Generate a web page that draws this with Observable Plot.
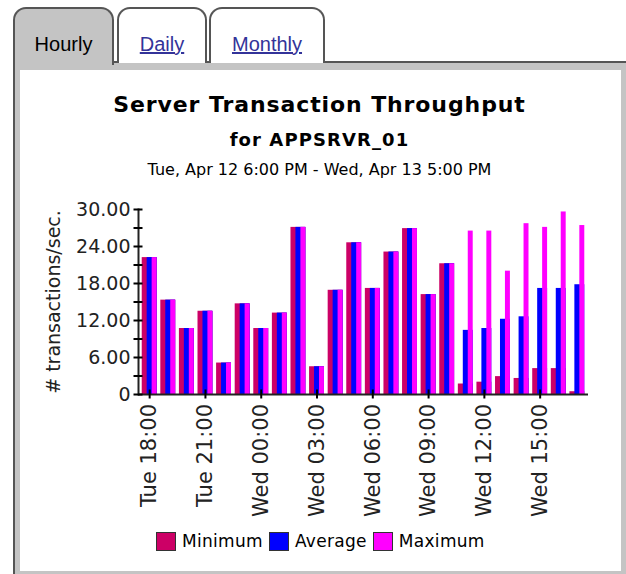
<!DOCTYPE html>
<html>
<head>
<meta charset="utf-8">
<script src="https://cdn.jsdelivr.net/npm/d3@7"></script>
<script src="https://cdn.jsdelivr.net/npm/@observablehq/plot@0.6"></script>
<style>
  html, body { margin: 0; padding: 0; background: #fff; }
  #page { position: relative; width: 626px; height: 574px; overflow: hidden; font-family: "DejaVu Sans", sans-serif; }
  .panel { position: absolute; left: 13px; top: 61px; width: 613px; height: 513px; box-sizing: border-box;
           border-left: 2px solid #555; border-top: 2px solid #555; background: #c4c4c4; }
  .inner { position: absolute; left: 20px; top: 70px; width: 601px; height: 501px; background: #fff; }
  .tab { position: absolute; top: 7px; box-sizing: border-box; border: 2px solid #555; border-bottom: none;
         border-radius: 13px 13px 0 0; background: #fff; font-family: "Liberation Sans", Arial, sans-serif;
         font-size: 20px; text-align: center; line-height: 20px; padding-top: 25px; }
  .tab a { color: #333399; text-decoration: underline; }
  .t { position: absolute; left: 13px; width: 613px; text-align: center; line-height: 1; white-space: nowrap; color: #000; }
  #chart { position: absolute; left: 0; top: 190px; }
  #legend { position: absolute; left: 156px; top: 532px; display: flex; align-items: center; font-size: 17px; line-height: 1; }
  #legend .sw { width: 20px; height: 19px; box-sizing: border-box; border: 1.5px solid #333; margin-right: 6px; }
  #legend .lb { margin-right: 6px; letter-spacing: 0.3px; }
</style>
</head>
<body>
<div id="page">
  <div class="panel"></div>
  <div class="inner"></div>
  <div class="tab" style="left:13px;width:101px;height:58px;background:#c4c4c4;">Hourly</div>
  <div class="tab" style="left:117px;width:90px;height:56px;"><a>Daily</a></div>
  <div class="tab" style="left:209px;width:116px;height:56px;"><a>Monthly</a></div>
  <div class="t" id="title" style="top:94px;font-size:22px;font-weight:bold;letter-spacing:0.9px;"></div>
  <div class="t" id="subtitle" style="top:131px;font-size:18px;font-weight:bold;letter-spacing:1.1px;"></div>
  <div class="t" id="daterange" style="top:161.5px;font-size:16px;"></div>
  <div id="chart"></div>
  <div id="legend"></div>
</div>
<script>
const titleText = "Server Transaction Throughput";
const subtitleText = "for APPSRVR_01";
const dateText = "Tue, Apr 12 6:00 PM - Wed, Apr 13 5:00 PM";
const yLabel = "# transactions/sec.";

const hours = ["Tue 18:00","Tue 19:00","Tue 20:00","Tue 21:00","Tue 22:00","Tue 23:00",
  "Wed 00:00","Wed 01:00","Wed 02:00","Wed 03:00","Wed 04:00","Wed 05:00",
  "Wed 06:00","Wed 07:00","Wed 08:00","Wed 09:00","Wed 10:00","Wed 11:00",
  "Wed 12:00","Wed 13:00","Wed 14:00","Wed 15:00","Wed 16:00","Wed 17:00"];
const tickLabels = ["Tue 18:00","Tue 21:00","Wed 00:00","Wed 03:00","Wed 06:00","Wed 09:00","Wed 12:00","Wed 15:00"];

const minimum = [22.2,15.3,10.7,13.5,5.1,14.7,10.7,13.2,27.1,4.5,16.9,24.6,17.2,23.1,26.9,16.2,21.2,1.7,2.0,2.9,2.6,4.2,4.2,0.45];
const average = [22.2,15.3,10.7,13.5,5.1,14.7,10.7,13.2,27.1,4.5,16.9,24.6,17.2,23.1,26.9,16.2,21.2,10.4,10.7,12.2,12.6,17.2,17.2,17.8];
const maximum = [22.2,15.3,10.7,13.5,5.1,14.7,10.7,13.2,27.1,4.5,16.9,24.6,17.2,23.1,26.9,16.2,21.2,26.5,26.5,20.0,27.7,27.1,29.6,27.4];

const seriesNames = ["Minimum","Average","Maximum"];
const seriesColors = ["#cc0066","#0000ff","#ff00ff"];
const yTickValues = [0,3,6,9,12,15,18,21,24,27,30];
const yLabelValues = [0,6,12,18,24,30];

document.getElementById("title").textContent = titleText;
document.getElementById("subtitle").textContent = subtitleText;
document.getElementById("daterange").textContent = dateText;

const seriesValues = [minimum, average, maximum];
const rows = hours.flatMap((h, i) => seriesNames.map((s, j) => ({hour: h, series: s, value: seriesValues[j][i]})));

const width = 626, height = 330;
const marginLeft = 138, marginRight = 38, marginTop = 19, marginBottom = 126;
const pad = 0.2;
const step = (width - marginLeft - marginRight) / (hours.length - pad + 2 * pad);
const sub = step * (1 - pad) / 3;

// Minimum <= Average <= Maximum, so each later bar is drawn over the right part of the earlier one.
const barMarks = seriesNames.map((s, j) =>
  Plot.barY(rows.filter(d => d.series === s), {
    x: "hour", y: "value", fill: "series",
    insetLeft: j * sub, insetRight: 0
  })
);

const chart = Plot.plot({
  width, height, marginLeft, marginRight, marginTop, marginBottom,
  style: {fontFamily: "DejaVu Sans, sans-serif", fontSize: "19px", color: "#000", background: "transparent", overflow: "visible"},
  x: {domain: hours, padding: pad, round: false, axis: null},
  y: {domain: [0, 30], axis: null},
  color: {domain: seriesNames, range: seriesColors},
  marks: [
    ...barMarks,
    Plot.ruleY([0], {stroke: "#222", strokeWidth: 2}),
    Plot.frame({anchor: "left", stroke: "#222", strokeWidth: 2}),
    Plot.axisY({
      ticks: yTickValues,
      tickFormat: d => d === 0 ? "0" : (yLabelValues.includes(d) ? d.toFixed(2) : ""),
      tickSize: 9, dx: 4.5, tickPadding: 3.5, strokeWidth: 2, stroke: "#000",
      fontSize: 19, fill: "#222",
      label: yLabel, labelAnchor: "center", labelOffset: 92, labelArrow: "none"
    }),
    Plot.axisX({
      ticks: tickLabels, tickRotate: -90, tickSize: 9, dy: -4.5, tickPadding: 5,
      strokeWidth: 2, stroke: "#000", fontSize: 21, fill: "#222", label: null
    })
  ]
});
document.getElementById("chart").appendChild(chart);

const legend = document.getElementById("legend");
seriesNames.forEach((s, j) => {
  const sw = document.createElement("div");
  sw.className = "sw";
  sw.style.background = seriesColors[j];
  const lb = document.createElement("span");
  lb.className = "lb";
  lb.textContent = s;
  legend.appendChild(sw);
  legend.appendChild(lb);
});
</script>
</body>
</html>
